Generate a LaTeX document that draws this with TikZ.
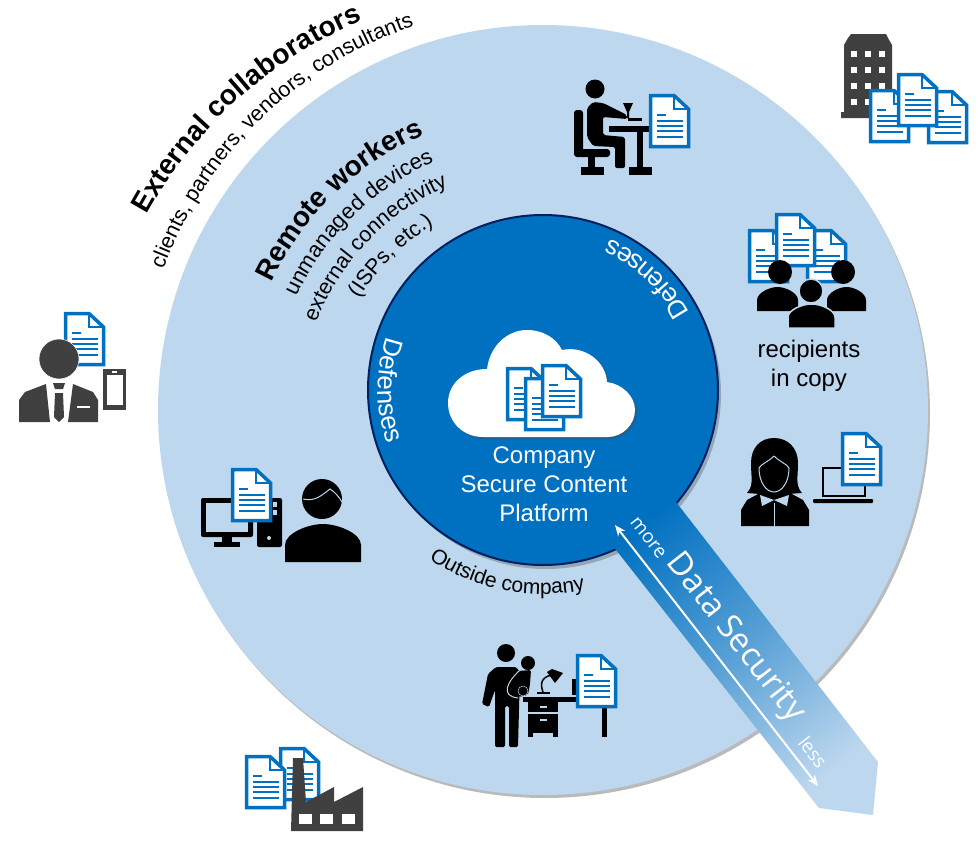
\documentclass[tikz,border=0pt]{standalone}
\usepackage{fontspec}
\setmainfont{Liberation Sans}
\newfontfamily\bandfont{Open Sans}
\usetikzlibrary{arrows.meta, calc, shadows, decorations.text}
\definecolor{ringblue}{HTML}{BDD7EE}
\definecolor{coreblue}{HTML}{0070C0}
\definecolor{corenavy}{HTML}{002060}
\definecolor{darkicon}{HTML}{404040}
\newcommand{\fsz}[1]{\fontsize{#1}{#1}\selectfont}
\newcommand{\arclabel}[7][ctr]{%
  \path[decorate, decoration={text along path, text align=center, text color=#7,
        text={|#5|#6}}]
    ($(#1)+(#3:#2pt)$) arc[start angle=#3, end angle=#4, radius=#2pt];}
\tikzset{
  docfile/.pic = {
    \filldraw[draw=coreblue, fill=white, line width=3.5pt]
      (1.5,1.5) -- (25,1.5) -- (39.5,15) -- (39.5,52.5) -- (1.5,52.5) -- cycle;
    \draw[coreblue, line width=2.8pt] (25,1.5) -- (25,15) -- (39.5,15);
    \draw[coreblue, line width=2pt] (8,21) -- (17,21);
    \foreach \ly in {27,32,37,43}
      \draw[coreblue, line width=2pt] (8,\ly) -- (34,\ly);
  },
  bust/.pic = {
    \path[pic actions] (0,1) -- (0,.55) .. controls (0,.25) and (.3,0) .. (.5,0)
      .. controls (.7,0) and (1,.25) .. (1,.55) -- (1,1) -- cycle;
  },
}
\begin{document}
\begin{tikzpicture}[
    x=1pt, y=-1pt,
    disc/.style = {circle, inner sep=0pt, outer sep=0pt},
    plainlabel/.style = {align=center, inner sep=0pt},
    secarr/.style = {{Stealth[length=11pt,width=9pt]}-{Stealth[length=11pt,width=9pt]},
                     white, line width=2pt},
  ]
    \useasboundingbox (0,0) rectangle (980,846);
    \coordinate (ctr) at (543,390);
    \coordinate (outctr) at (543,410);
    \coordinate (extctr) at (534,428);
    % rings
    \node[disc, fill=ringblue, minimum size=770pt,
          drop shadow={shadow xshift=2pt, shadow yshift=-3pt, opacity=.45, fill=black!60}]
      (outer) at (outctr) {};
    \node[disc, fill=coreblue, draw=corenavy, line width=2pt, minimum size=350pt,
          drop shadow={shadow xshift=3pt, shadow yshift=-4pt, opacity=.35, fill=black!70}]
      (core) at (ctr) {};
    % band
    \shade[top color=coreblue, bottom color=ringblue, middle color=coreblue!55!ringblue,
           shading angle=38]
      (655,475) -- (878,762) -- (873,815) -- (819,808) -- (598,527) -- cycle;
    \coordinate (moreend) at (615,525);
    \coordinate (lessend) at (818,786);
    \draw[secarr] (moreend) -- (lessend);
    \node[rotate=-52, text=white, font=\bandfont\fsz{33}, inner sep=0pt] (seclabel)
      at (735,638) {Data Security};
    \node[rotate=-52, text=white, font=\bandfont\fsz{19}, inner sep=0pt] (morelabel)
      at (648,538) {more};
    \node[rotate=-52, text=white, font=\bandfont\fsz{19}, inner sep=0pt] (lesslabel)
      at (813,752) {less};
    % arc labels
    \arclabel[extctr]{442}{151}{113}{\bfseries\fsz{28}}{External collaborators}{black}
    \arclabel[outctr]{405}{159.4}{108.8}{\fsz{21.5}}{clients, partners, vendors, consultants}{black}
    \arclabel[outctr]{300}{154.9}{113.4}{\bfseries\fsz{28}}{Remote workers}{black}
    \arclabel[outctr]{271}{155.5}{113.5}{\fsz{22}}{unmanaged devices}{black}
    \arclabel[outctr]{243}{159}{113}{\fsz{21.5}}{external connectivity}{black}
    \arclabel[outctr]{215}{148.7}{120.7}{\fsz{21.5}}{(ISPs, etc.)}{black}
    \arclabel{165}{161}{199}{\fsz{26}}{Defenses}{white}
    \arclabel{165}{26}{68}{\fsz{26}}{Defenses}{white}
    \arclabel{204}{236}{282}{\fsz{21}}{Outside company}{black}
    % cloud
    \fill[white, drop shadow={shadow xshift=2pt, shadow yshift=-2pt, opacity=.4, fill=black!70}]
      (483,437) .. controls (463,437) and (448,422) .. (448,403)
      .. controls (448,384) and (464,369) .. (487,369)
      .. controls (490,345) and (508,330) .. (527,330)
      .. controls (543,330) and (556,338) .. (562,350)
      .. controls (585,345) and (606,362) .. (607,382)
      .. controls (622,384) and (635,396) .. (635,410)
      .. controls (635,425) and (622,437) .. (608,437) -- cycle;
    \pic at (506,367) {docfile};
    \pic at (524,377) {docfile};
    \pic at (541,364) {docfile};
    \node[plainlabel, text=white, font=\fsz{24}, align=center] (platform) at (544,484)
      {Company\\[5pt]Secure Content\\[5pt]Platform};
    % desk worker
    \fill (595,89) circle (9.5pt);
    \fill[rounded corners=3pt] (574,110) rectangle (583,157);
    \fill[rounded corners=3pt] (578,149) rectangle (610,157);
    \fill (588,157) rectangle (595,167);
    \fill (581,167) rectangle (604,175);
    \fill[rounded corners=2pt] (587,108) -- (593,102) -- (603,103) -- (627,115) -- (627,119)
      -- (603,117) -- (603,135) -- (625,137) -- (625,168) -- (615,168) -- (615,147)
      -- (593,146) -- (587,137) -- cycle;
    \fill[draw=ringblue, line width=.6pt] (608,125) rectangle (650,132);
    \fill (637,132) rectangle (643,167);
    \fill (629,167) rectangle (652,175);
    \fill (623,103) -- (633,103) -- (629,112) -- (629,118) -- (627,118) -- (627,112) -- cycle;
    \fill (628,118) rectangle (642,121);
    \pic at (649,94) {docfile};
    % office building
    \fill[darkicon] (844,112) -- (844,45) -- (848,38) -- (851,34) -- (886,34) -- (888,38)
      -- (892,45) -- (892,118) -- (841,118) -- (841,112) -- cycle;
    \foreach \wx in {854,868,882}
      \foreach \wy in {54,70,86,102}
        \fill[white] (\wx-3,\wy-3) rectangle (\wx+3,\wy+3);
    \pic at (869,89) {docfile};
    \pic at (927,90) {docfile};
    \pic at (897,73) {docfile};
    % recipients
    \pic at (748,229) {docfile};
    \pic at (806,229) {docfile};
    \pic at (775,213) {docfile};
    \pic[xscale=41, yscale=24, fill=black] at (757,287) {bust};
    \pic[xscale=39, yscale=24, fill=black] at (827,287) {bust};
    \fill (780,272) circle (12pt);
    \fill (843,272) circle (12pt);
    \pic[xscale=47, yscale=24, fill=black, draw=ringblue, line width=1.5pt] at (788,304) {bust};
    \fill[draw=ringblue, line width=1.5pt] (811,291) circle (12pt);
    \node[plainlabel, font=\fsz{24}] (copylabel) at (809,366)
      {recipients\\[5pt]in copy};
    % secretary
    \fill (741,526) -- (741,510) -- (747,500) -- (760,493) -- (790,493) -- (803,500)
      -- (809,510) -- (809,526) -- cycle;
    \fill (774,438) .. controls (760,438) and (751,448) .. (751,463)
      .. controls (751,478) and (754,485) .. (747,493) -- (760,494) -- (788,494) -- (802,493)
      .. controls (795,485) and (798,478) .. (798,463)
      .. controls (798,448) and (788,438) .. (774,438) -- cycle;
    \draw[ringblue, line width=1pt] (774,456) .. controls (768,462) and (761,464) .. (759,468)
      .. controls (759,482) and (766,492) .. (774,492)
      .. controls (782,492) and (789,482) .. (789,468)
      .. controls (787,464) and (780,462) .. (774,456);
    \fill[ringblue] (774,500) -- (760,495) -- (762,506) -- cycle;
    \fill[ringblue] (774,500) -- (789,495) -- (787,506) -- cycle;
    \draw[ringblue, line width=1pt] (774,503) -- (774,526);
    \draw[black, line width=2.5pt] (823,468) rectangle (865,496);
    \fill[rounded corners=1pt] (813,499) rectangle (873,503);
    \pic at (841,432) {docfile};
    % consultant
    \pic at (64,312) {docfile};
    \fill[darkicon, draw=white, line width=.5pt] (59,359) circle (20pt);
    \fill[darkicon] (19,422) -- (19,400) -- (25,392) -- (46,384) -- (50,422) -- cycle;
    \fill[darkicon] (98,422) -- (98,400) -- (93,392) -- (73,384) -- (68,422) -- cycle;
    \fill[darkicon] (53,383) -- (65,383) -- (63,389) -- (55,389) -- cycle;
    \fill[darkicon] (55,393) -- (63,393) -- (64,417) -- (59,422) -- (54,417) -- cycle;
    \fill[white] (77,406) rectangle (90,408);
    \fill[darkicon] (103,369) rectangle (126,410);
    \fill[white] (107,375) rectangle (123,405);
    \fill[white] (112,371) rectangle (117,373);
    % home computer
    \fill[rounded corners=2pt] (201,498) rectangle (253,537);
    \fill[ringblue] (206,503) rectangle (248,532);
    \fill (222,537) rectangle (232,542);
    \fill (214,542) rectangle (240,547);
    \fill[rounded corners=2pt] (257,498) rectangle (282,547);
    \fill[ringblue] (269,538) circle (2pt);
    \fill[ringblue] (273,502) rectangle (277,507);
    \fill[ringblue] (273,510) rectangle (277,515);
    \pic at (231,468) {docfile};
    \fill (322,499) circle (20pt);
    \draw[ringblue, line width=1pt] (303,499) .. controls (315,502) and (322,495) .. (330,489)
      .. controls (335,492) and (339,497) .. (342,502);
    \pic[xscale=76, yscale=38, fill=black] at (285,524) {bust};
    % parent at home
    \fill (506,653) circle (9pt);
    \fill[rounded corners=1.5pt] (488,674) -- (496,667) -- (516,667) -- (520,672) -- (518,747)
      -- (509,747) -- (509,706) -- (505,706) -- (505,747) -- (495,747) -- (495,690)
      -- (489,707) -- (482,704) -- cycle;
    \fill (528,663) circle (7pt);
    \fill[rounded corners=2pt] (518,671) -- (531,670) -- (530,684) -- (528,695) -- (518,697) -- cycle;
    \draw[ringblue, line width=1pt] (520,670) .. controls (507,682) and (500,696) .. (518,698);
    \fill[draw=ringblue, line width=.5pt] (523,691) circle (5pt);
    \fill (523,697) rectangle (577,702);
    \fill (528,702) rectangle (558,733);
    \fill (528,733) rectangle (533,737);
    \fill (553,733) rectangle (558,737);
    \fill[ringblue] (540,706) rectangle (547,707.5);
    \fill[ringblue] (540,719) rectangle (547,720.5);
    \fill[ringblue] (528,712) rectangle (558,713.5);
    \fill (602,700) rectangle (607,737);
    \fill (537,692) rectangle (550,694);
    \draw[line width=1.5pt] (543,692) .. controls (540,684) and (541,677) .. (552,675);
    \fill (547,672) -- (552,669) -- (563,673) -- (555,683) -- cycle;
    \fill (572,679) rectangle (576,695);
    \pic at (576,654) {docfile};
    % factory
    \pic at (279,747) {docfile};
    \pic at (245,755) {docfile};
    \fill[darkicon] (291,831) -- (293,758) -- (303,758) -- (306,802) -- (334,787) -- (334,802)
      -- (363,787) -- (363,831) -- cycle;
    \foreach \wx in {299,320,342}
      \fill[white] (\wx,814) rectangle (\wx+13,824);
  \end{tikzpicture}
\end{document}
